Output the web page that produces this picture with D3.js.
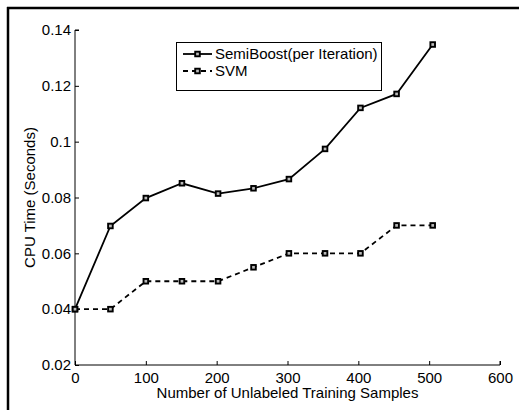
<!DOCTYPE html>
<html>
<head>
<meta charset="utf-8">
<script src="https://cdn.jsdelivr.net/npm/d3@7"></script>
<style>
  html, body { margin: 0; padding: 0; background: #fff; overflow: hidden; }
  svg { display: block; }
  text { font-family: "Liberation Sans", Arial, Helvetica, sans-serif; fill: #000; }
</style>
</head>
<body>
<script>
// Unlabeled sample counts and CPU time per method
const samples = [0, 50, 100, 151, 202, 252, 302, 353, 403, 454, 505];
const semiBoost = [0.04, 0.0698, 0.0798, 0.0851, 0.0814, 0.0833, 0.0866, 0.0974, 0.1121, 0.1171, 0.1348];
const svmTime = [0.04, 0.04, 0.05, 0.05, 0.05, 0.055, 0.06, 0.06, 0.06, 0.07, 0.07];
const xTicks = [0, 100, 200, 300, 400, 500, 600];
const yTicks = [0.02, 0.04, 0.06, 0.08, 0.1, 0.12, 0.14];
const seriesNames = ["SemiBoost(per Iteration)", "SVM"];

const W = 519, H = 410;
const svg = d3.select("body").append("svg").attr("width", W).attr("height", H);

// outer frame: left and top edges only
svg.append("line").attr("x1", 8).attr("y1", 7).attr("x2", 8).attr("y2", H)
  .attr("stroke", "#000").attr("stroke-width", 2.5);
svg.append("line").attr("x1", 7).attr("y1", 8).attr("x2", W).attr("y2", 8)
  .attr("stroke", "#000").attr("stroke-width", 2.5);

const x = d3.scaleLinear().domain([0, 600]).range([75, 500]);
const y = d3.scaleLinear().domain([0.02, 0.14]).range([365, 30]);

const fs = "15px";

// axes with inward ticks
const xAxis = svg.append("g").attr("transform", `translate(0,${y(0.02)})`)
  .call(d3.axisBottom(x).tickValues(xTicks).tickSize(-4).tickPadding(7).tickFormat(d3.format("d")));
const yAxis = svg.append("g").attr("transform", `translate(${x(0)},0)`)
  .call(d3.axisLeft(y).tickValues(yTicks).tickSize(-4).tickPadding(4).tickFormat(d => d3.format("")(+d.toFixed(2))));
[xAxis, yAxis].forEach(g => {
  g.select(".domain").attr("stroke", "#000").attr("stroke-width", 1);
  g.selectAll(".tick line").attr("stroke", "#000");
  g.selectAll("text").style("font-size", fs).attr("fill", "#000")
    .style("font-family", '"Liberation Sans", Arial, sans-serif');
});
xAxis.selectAll(".domain").attr("d", `M${x(0)},0H${x(600)}V-4`);
yAxis.selectAll(".domain").attr("d", `M4,${y(0.14)}H0V${y(0.02)}`);

// axis titles
svg.append("text").attr("x", (x(0) + x(600)) / 2).attr("y", 398)
  .attr("text-anchor", "middle").style("font-size", fs)
  .text("Number of Unlabeled Training Samples");
svg.append("text").attr("transform", `translate(35,${(y(0.02) + y(0.14)) / 2}) rotate(-90)`)
  .attr("text-anchor", "middle").style("font-size", fs)
  .text("CPU Time (Seconds)");

const line = d3.line().x((d, i) => x(samples[i])).y(d => y(d));

// square markers: dark outline with a small light centre
function marker(sel) {
  return sel.attr("width", 4.6).attr("height", 4.6)
    .attr("fill", "#bbb").attr("stroke", "#000").attr("stroke-width", 1.9);
}

function drawSeries(values, dash) {
  svg.append("path").datum(values)
    .attr("d", line).attr("fill", "none").attr("stroke", "#000")
    .attr("stroke-width", 1.8).attr("stroke-dasharray", dash);
  svg.selectAll(null).data(values).enter().append("rect")
    .attr("x", (d, i) => x(samples[i]) - 2.3).attr("y", d => y(d) - 2.3)
    .call(marker);
}
drawSeries(semiBoost, null);
drawSeries(svmTime, "5,4");

// legend
const lg = svg.append("g");
lg.append("rect").attr("x", 176.5).attr("y", 42.5).attr("width", 205).attr("height", 48)
  .attr("fill", "#fff").attr("stroke", "#000").attr("stroke-width", 1);
seriesNames.forEach((name, i) => {
  const cy = 54 + i * 17;
  lg.append("line").attr("x1", 183).attr("x2", 212).attr("y1", cy).attr("y2", cy)
    .attr("stroke", "#000").attr("stroke-width", 1.8)
    .attr("stroke-dasharray", i === 1 ? "5,4" : null);
  lg.append("rect").attr("x", 195.2).attr("y", cy - 2.3).call(marker);
  lg.append("text").attr("x", 215).attr("y", cy + 5).style("font-size", fs).text(name);
});
</script>
</body>
</html>
